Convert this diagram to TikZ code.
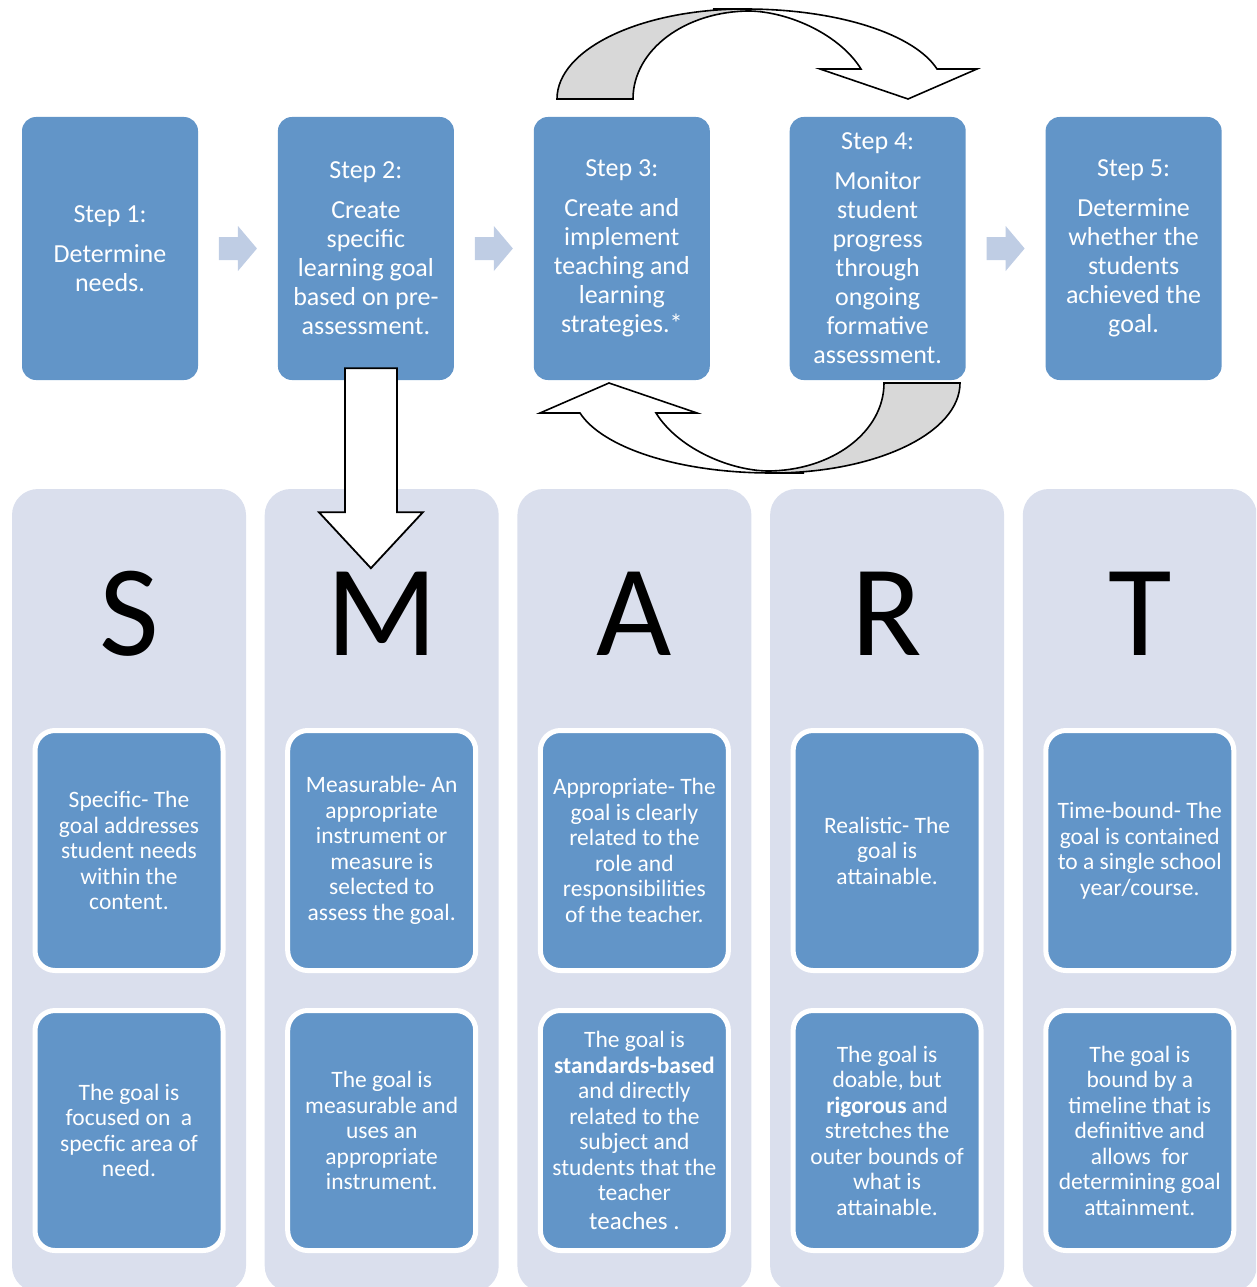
\documentclass[tikz,border=0pt]{standalone}
\usepackage{fontspec}
\setmainfont{Carlito}
\usepackage{tikz}
\usetikzlibrary{calc}
\usetikzlibrary{positioning}
\definecolor{stepblue}{RGB}{98,149,200}
\definecolor{columnblue}{RGB}{218,223,237}
\definecolor{lightarrow}{RGB}{191,205,228}
\definecolor{bandgray}{RGB}{216,216,216}
\newcommand{\colsep}{252.7}
\tikzset{
    stepbox/.style={fill=stepblue, rounded corners=14, minimum width=176, minimum height=263,
        text=white, align=center, inner sep=0pt, font=\fontsize{26}{29}\selectfont},
    column/.style={fill=columnblue, rounded corners=26, minimum width=234, minimum height=803, inner sep=0pt},
    letter/.style={anchor=base, inner sep=0pt, font=\fontsize{130}{130}\selectfont},
    goalbox/.style={draw=white, line width=5, fill=stepblue, rounded corners=20, minimum width=188,
        minimum height=240, text=white, align=center, inner sep=0pt, font=\fontsize{23.5}{25.5}\selectfont},
    nextarrow/.style={fill=lightarrow},
    downarrow/.style={draw=black, fill=white, line width=1.8, line join=miter},
    loopfront/.style={draw=black, fill=white, line width=1.6},
    loopback/.style={draw=black, fill=bandgray, line width=1.6}
}
% light arrow between two step boxes
\newcommand{\nextstep}[2]{%
    \fill[nextarrow] ($(#1.east)!.5!(#2.west)$) ++(-19,-11.5) -- ++(19,0) -- ++(0,-11)
        -- ++(19,22.5) -- ++(-19,22.5) -- ++(0,-11) -- ++(-19,0) -- cycle;
}
% curved arrow over steps 3 and 4
\newcommand{\looparrow}{%
    \filldraw[loopfront] (713,9) -- (745,9) .. controls (840,9) and (915,35) .. (937,69)
        -- (977,69) -- (908,99) -- (820,69) -- (861,69)
        .. controls (840,35) and (790,12) .. (750,11) -- cycle;
    \filldraw[loopback] (557,99) .. controls (557,49) and (641,9) .. (745,9) -- (750,11)
        .. controls (685,11) and (633,50) .. (633,99) -- cycle;
}
\begin{document}
\begin{tikzpicture}[x=1pt, y=-1pt]
    \useasboundingbox (0,0) rectangle (1256,1287);
    \clip (0,0) rectangle (1256,1287);

    % steps
    \node[stepbox] (step1) at (110,248.5) {Step 1:\\[11pt] Determine\\ needs.};
    \node[stepbox, right=79.5pt of step1] (step2) {Step 2:\\[11pt] Create\\ specific\\ learning goal\\ based on pre-\\ assessment.};
    \node[stepbox, right=79.5pt of step2] (step3) {Step 3:\\[11pt] Create and\\ implement\\ teaching and\\ learning\\ strategies.*};
    \node[stepbox, right=79.5pt of step3] (step4) {Step 4:\\[11pt] Monitor\\ student\\ progress\\ through\\ ongoing\\ formative\\ assessment.};
    \node[stepbox, right=79.5pt of step4] (step5) {Step 5:\\[11pt] Determine\\ whether the\\ students\\ achieved the\\ goal.};

    \nextstep{step1}{step2}
    \nextstep{step2}{step3}
    \nextstep{step4}{step5}

    \looparrow
    \begin{scope}[shift={(1517,482)}, rotate=180]
        \looparrow
    \end{scope}

    % SMART columns
    \foreach \ltr [count=\i from 0] in {S,M,A,R,T} {
        \node[column] (col\ltr) at (129+\i*\colsep, 890.5) {};
        \node[letter] (let\ltr) at (129+\i*\colsep, 655) {\ltr};
    }

    \draw[downarrow] ($(step2.south)+(-21,-12)$) -- ++(52,0) -- ++(0,144) -- ++(26,0)
        -- ++(-52,56) -- ++(-52,-56) -- ++(26,0) -- cycle;

    \node[goalbox] (s1) at (colS |- 0,850.5) {Specific- The\\ goal addresses\\ student needs\\ within the\\ content.};
    \node[goalbox] (m1) at (colM |- 0,850.5) {Measurable- An\\ appropriate\\ instrument or\\ measure is\\ selected to\\ assess the goal.};
    \node[goalbox] (a1) at (colA |- 0,850.5) {Appropriate- The\\ goal is clearly\\ related to the\\ role and\\ responsibilities\\ of the teacher.};
    \node[goalbox] (r1) at (colR |- 0,850.5) {Realistic- The\\ goal is\\ attainable.};
    \node[goalbox] (t1) at (colT |- 0,850.5) {Time-bound- The\\ goal is contained\\ to a single school\\ year/course.};

    \node[goalbox] (s2) at (colS |- 0,1130.5) {The goal is\\ focused on\ \ a\\ specfic area of\\ need.};
    \node[goalbox] (m2) at (colM |- 0,1130.5) {The goal is\\ measurable and\\ uses an\\ appropriate\\ instrument.};
    \node[goalbox] (a2) at (colA |- 0,1130.5) {The goal is\\ \textbf{standards-based}\\ and directly\\ related to the\\ subject and\\ students that the\\ teacher\\[3pt] {\fontsize{25}{27}\selectfont teaches .}};
    \node[goalbox] (r2) at (colR |- 0,1130.5) {The goal is\\ doable, but\\ \textbf{rigorous} and\\ stretches the\\ outer bounds of\\ what is\\ attainable.};
    \node[goalbox] (t2) at (colT |- 0,1130.5) {The goal is\\ bound by a\\ timeline that is\\ definitive and\\ allows\ \ for\\ determining goal\\ attainment.};
\end{tikzpicture}
\end{document}
